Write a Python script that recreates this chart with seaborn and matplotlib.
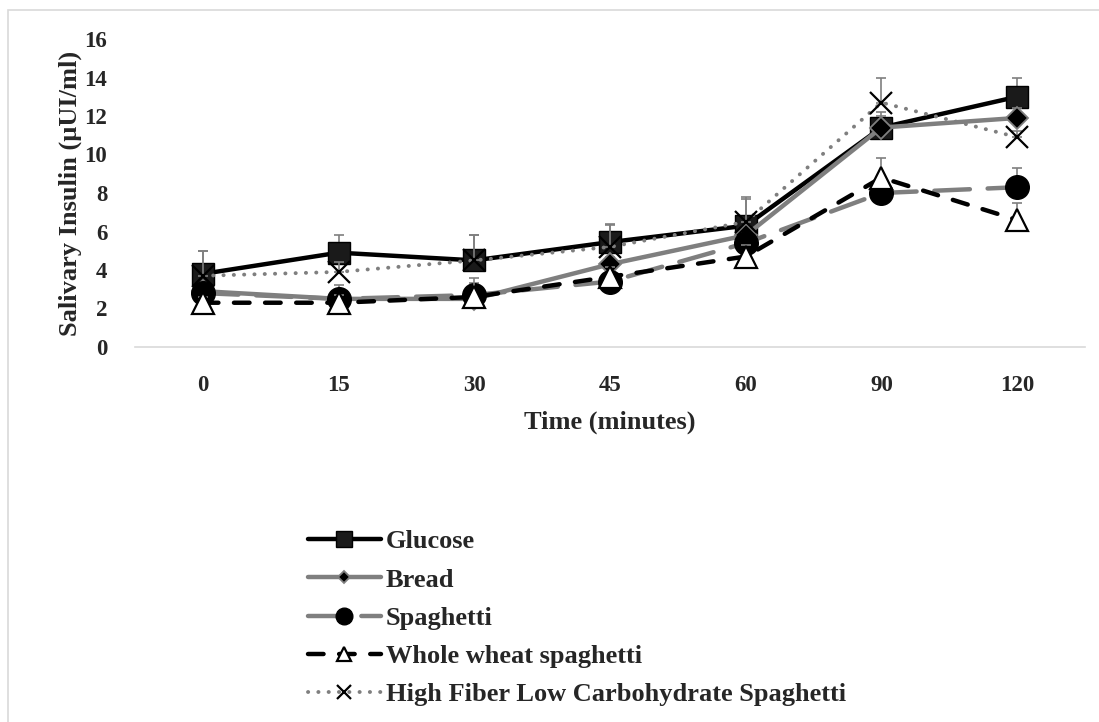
import numpy as np
import pandas as pd
import matplotlib
matplotlib.use("Agg")
import matplotlib.pyplot as plt
from matplotlib.patches import Rectangle
from matplotlib.lines import Line2D
import seaborn as sns

times = ["0", "15", "30", "45", "60", "90", "120"]
glucose = [3.8, 4.9, 4.5, 5.45, 6.3, 11.4, 13.0]
bread = [2.9, 2.5, 2.5, 4.3, 5.8, 11.4, 11.9]
spaghetti = [2.8, 2.5, 2.7, 3.4, 5.4, 8.0, 8.3]
whole_wheat = [2.3, 2.3, 2.6, 3.65, 4.7, 8.8, 6.6]
hflc = [3.7, 3.9, 4.5, 5.2, 6.5, 12.7, 10.9]

err_glucose = [1.2, 0.9, 1.3, 0.9, 1.4, 0.8, 1.0]
err_bread = [0.4, 0.4, 0.3, 0.4, 0.5, 0.6, 0.5]
err_spaghetti = [0.4, 0.7, 0.6, 0.4, 0.5, 0.6, 1.0]
err_whole = [0.3, 0.4, 1.0, 0.5, 0.6, 1.0, 0.9]
err_hflc = [1.3, 0.5, 1.3, 1.2, 1.3, 1.3, 0.3]

names = ["Glucose", "Bread", "Spaghetti", "Whole wheat spaghetti",
         "High Fiber Low Carbohydrate Spaghetti"]
values = [glucose, bread, spaghetti, whole_wheat, hflc]
errors = [err_glucose, err_bread, err_spaghetti, err_whole, err_hflc]

sns.set_theme(style="white")
plt.rcParams['font.family'] = ['Liberation Serif', 'DejaVu Serif']
plt.rcParams['font.weight'] = 'bold'

GRAY = "#7f7f7f"
LW = 3.2
styles = [
    dict(color="black", lw=LW, ls="-", marker="s", ms=16, lms=12, mfc="#1a1a1a", mec="black", mew=1),
    dict(color=GRAY, lw=LW, ls="-", marker="D", ms=11.5, lms=6, mfc="black", mec=GRAY, mew=1.3),
    dict(color=GRAY, lw=LW, ls=(0, (8, 4)), marker="o", ms=17, lms=12, mfc="black", mec="black", mew=1),
    dict(color="black", lw=LW, ls=(0, (3.5, 3.5)), marker="^", ms=16.5, lms=10, mfc="white", mec="black", mew=1.6),
    dict(color=GRAY, lw=2.8, ls=(0, (0.05, 2.6)), marker="x", ms=16.5, lms=10, mfc="black", mec="black", mew=1.6),
]

fig = plt.figure(figsize=(10.99, 7.22), dpi=100)
ax = fig.add_axes([135/1099, 1-347/722, (1085-135)/1099, (347-39)/722])

x = np.arange(len(times))
for i, (name, vals, err, st) in enumerate(zip(names, values, errors, styles)):
    df = pd.DataFrame({"Time": x, "Insulin": vals})
    ax.errorbar(x, vals, yerr=[np.zeros(len(err)), err], fmt="none",
                ecolor=GRAY, elinewidth=1.2, capsize=3.6, capthick=1.2, zorder=2 + i)
    sns.lineplot(data=df, x="Time", y="Insulin", ax=ax, color=st["color"],
                 linewidth=st["lw"], linestyle=st["ls"], marker=st["marker"],
                 markersize=st["ms"], markerfacecolor=st["mfc"],
                 markeredgecolor=st["mec"], markeredgewidth=st["mew"],
                 dash_capstyle="round", solid_capstyle="round",
                 zorder=3 + i, legend=False)

ax.set_xlim(-0.5, 6.5)
ax.set_ylim(0, 16)
ax.set_yticks(np.arange(0, 17, 2))
ax.set_xticks(x)
ax.set_xticklabels(times)
ax.tick_params(axis="both", labelsize=16.5, length=0)
ax.tick_params(axis="x", pad=20)
ax.tick_params(axis="y", pad=20)
for lab in ax.get_xticklabels() + ax.get_yticklabels():
    lab.set_fontweight("bold")
for s in ["top", "right", "left"]:
    ax.spines[s].set_visible(False)
ax.spines["bottom"].set_color("#d9d9d9")
ax.spines["bottom"].set_linewidth(1.2)
ax.set_xlabel("Time (minutes)", fontsize=19, fontweight="bold", labelpad=11)
ax.set_ylabel("Salivary Insulin (µUI/ml)", fontsize=19, fontweight="bold", labelpad=2)

handles = []
for name, st in zip(names, styles):
    handles.append(Line2D([0], [0], color=st["color"], lw=st["lw"], ls=st["ls"],
                          marker=st["marker"], ms=st["lms"], mfc=st["mfc"],
                          mec=st["mec"], mew=st["mew"], dash_capstyle="round",
                          solid_capstyle="round"))
leg = fig.legend(handles, names, loc="upper left", bbox_to_anchor=(308/1099, 1-530/722),
                 frameon=False, prop=dict(size=19, weight="bold"), handlelength=2.75,
                 handletextpad=0.2, labelspacing=0.56, borderpad=0, borderaxespad=0)

fig.patches.append(Rectangle((8/1099, -0.1), 1.2, 1 - 10/722 + 0.1, transform=fig.transFigure,
                             fill=False, edgecolor="#d9d9d9", lw=1.2))

fig.savefig("out.png", dpi=100)
